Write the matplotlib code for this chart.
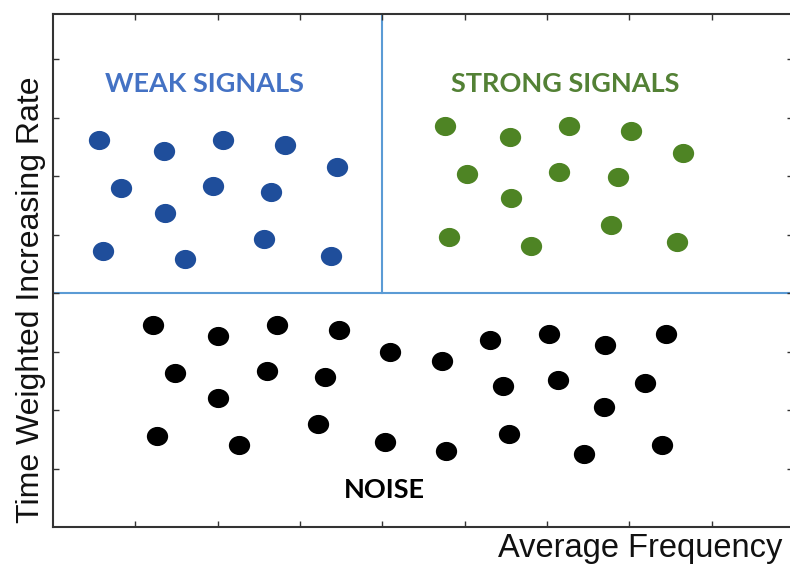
import numpy as np
import matplotlib.pyplot as plt
from matplotlib.path import Path

plt.rcParams['font.family'] = ['Liberation Sans', 'DejaVu Sans']

# weak signals (upper left quadrant)
weak_x = [0.56, 1.35, 2.07, 2.82, 3.45, 0.83, 1.94, 2.65, 1.36, 0.61, 1.60, 2.56, 3.38]
weak_y = [6.62, 6.43, 6.62, 6.53, 6.15, 5.79, 5.83, 5.73, 5.37, 4.72, 4.58, 4.92, 4.63]

# strong signals (upper right quadrant)
strong_x = [4.76, 5.55, 6.27, 7.02, 7.65, 5.03, 6.15, 6.86, 5.56, 4.81, 5.81, 6.78, 7.58]
strong_y = [6.86, 6.67, 6.86, 6.77, 6.40, 6.04, 6.07, 5.98, 5.62, 4.96, 4.81, 5.16, 4.87]

# noise (lower half)
noise_x = [1.21, 2.00, 2.72, 3.47, 4.09, 1.48, 2.60, 3.30, 2.01, 1.26, 2.26, 3.22, 4.03,
           4.72, 5.31, 6.02, 6.70, 7.45, 5.47, 6.14, 7.19, 6.69, 4.78, 5.54, 6.45, 7.40]
noise_y = [3.45, 3.26, 3.45, 3.36, 2.99, 2.63, 2.67, 2.57, 2.20, 1.56, 1.40, 1.76, 1.46,
           2.84, 3.20, 3.30, 3.11, 3.30, 2.41, 2.51, 2.47, 2.05, 1.30, 1.59, 1.25, 1.40]

x_split = 4
y_split = 4
x_ticks = [1, 2, 3, 4, 5, 6, 7, 8]
y_ticks = [1, 2, 3, 4, 5, 6, 7, 8]

fig = plt.figure(figsize=(7.9, 5.64), dpi=100)
# right spine sits just past the image edge, as in the original screenshot
ax = fig.add_axes([53 / 790, 37 / 564, 740 / 790, 513 / 564])
ax.set_xlim(0, 8.99)
ax.set_ylim(0, 8.77)

# quadrant dividers
ax.axhline(y_split, color='#5B9BD5', lw=1.5, zorder=1)
ax.plot([x_split, x_split], [y_split, 8.77], color='#5B9BD5', lw=1.5, zorder=1)

# slightly flattened dots
circ = Path.unit_circle()
oval = Path(circ.vertices * np.array([1.0, 0.9]), circ.codes)

dot = dict(s=235, marker=oval, linewidths=0, zorder=3)
ax.scatter(weak_x, weak_y, color='#1F4E9B', **dot)
ax.scatter(strong_x, strong_y, color='#4E8424', **dot)
ax.scatter(noise_x, noise_y, color='black', **dot)

lab = dict(family=['Lato', 'DejaVu Sans'], fontweight='bold', fontsize=19.5,
           ha='center', va='center')
ax.text(1.84, 7.57, 'WEAK SIGNALS', color='#4472C4', **lab)
ax.text(6.22, 7.57, 'STRONG SIGNALS', color='#538135', **lab)
ax.text(4.02, 0.63, 'NOISE', color='black', **lab)

ax.set_xticks(x_ticks)
ax.set_yticks(y_ticks)
ax.set_xticklabels([])
ax.set_yticklabels([])
ax.tick_params(direction='in', length=4, width=1, color='#333333',
               top=True, right=True, bottom=True, left=True)
for sp in ax.spines.values():
    sp.set_color('#333333')
    sp.set_linewidth(1.5)

fig.text(782 / 790, 1 - 557 / 564, 'Average Frequency', ha='right', va='baseline',
         fontsize=23.5, color='#111111')
fig.text(31 / 790, 1 - 300 / 564, 'Time Weighted Increasing Rate', rotation=90,
         ha='center', va='center', fontsize=23, color='#111111')

fig.savefig('out.png', dpi=100)
